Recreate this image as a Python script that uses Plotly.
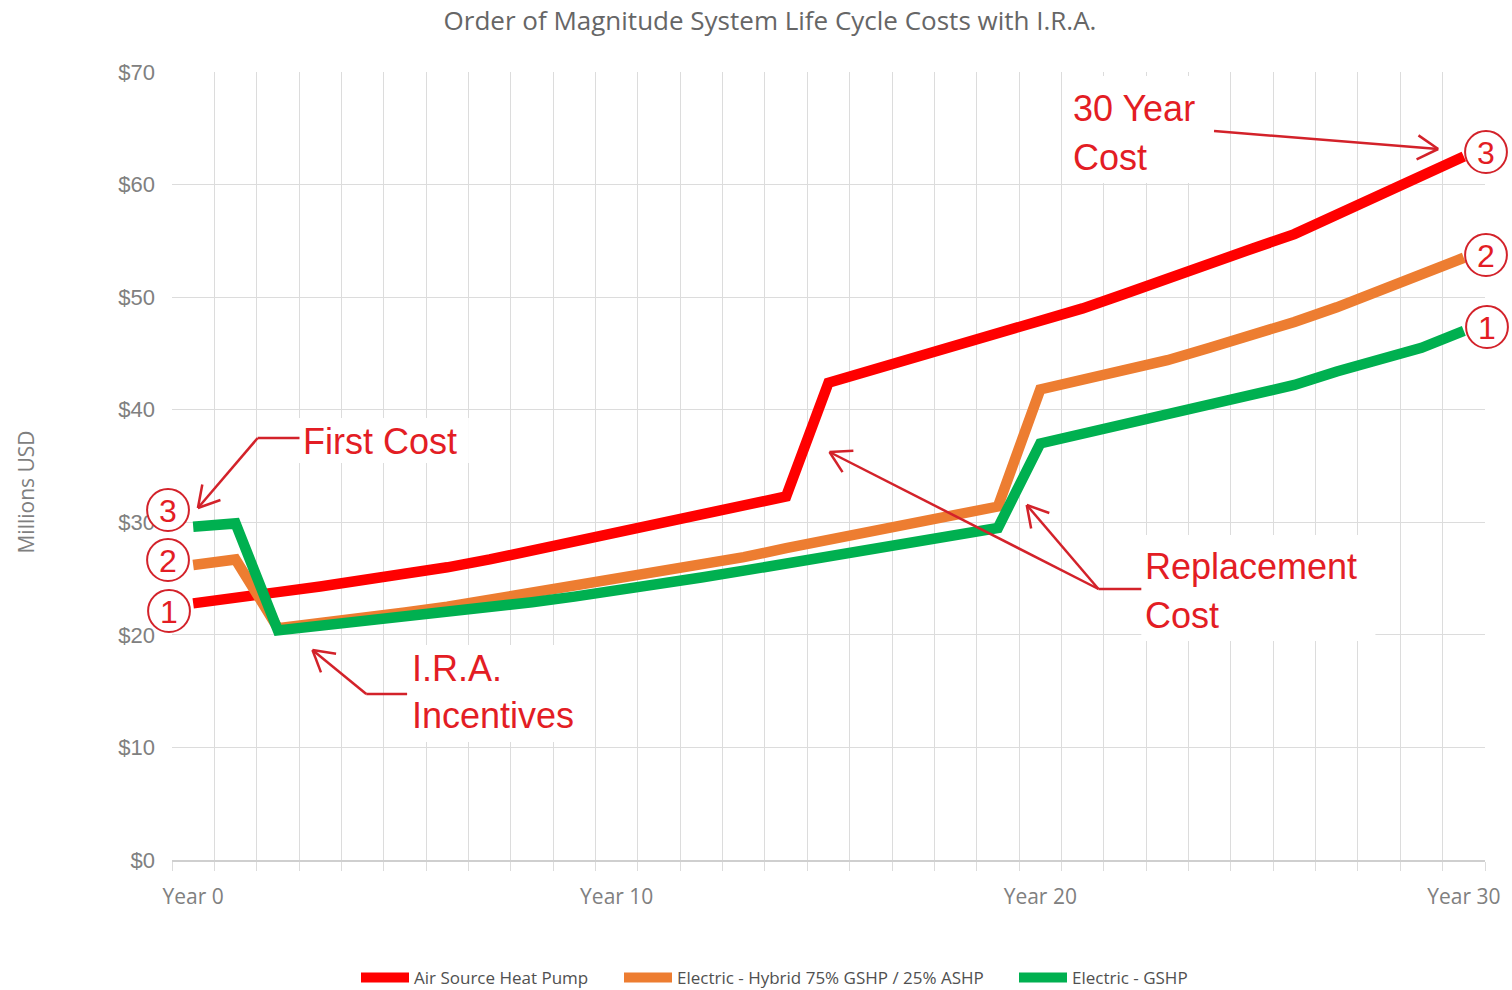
import math
import plotly.graph_objects as go

# ---- data (millions USD, cumulative life-cycle cost by year) ----
years = list(range(31))
year_labels = ["Year 0", "Year 10", "Year 20", "Year 30"]
year_label_pos = [0, 10, 20, 30]

air_source_hp = [22.8, 23.2, 23.8, 24.3, 24.8, 25.4, 26.0, 26.7, 27.5, 28.3,
                 29.1, 29.9, 30.7, 31.5, 32.3, 42.4, 43.5, 44.6, 45.7, 46.7,
                 47.7, 49.0, 50.3, 51.7, 53.0, 54.3, 55.6, 57.3, 59.0, 60.8, 62.5]
hybrid_gshp_ashp = [26.2, 26.7, 20.6, 21.0, 21.5, 22.0, 22.5, 23.1, 23.7, 24.3,
                    24.9, 25.5, 26.1, 26.9, 27.7, 28.4, 29.2, 29.9, 30.6, 31.4,
                    41.8, 42.6, 43.5, 44.4, 45.5, 46.6, 47.8, 49.1, 50.5, 52.0, 53.5]
electric_gshp = [29.6, 29.9, 20.4, 20.8, 21.1, 21.5, 21.9, 22.4, 22.9, 23.4,
                 23.9, 24.5, 25.1, 25.7, 26.3, 26.9, 27.5, 28.2, 28.8, 29.5,
                 37.0, 37.9, 38.8, 39.7, 40.6, 41.3, 42.2, 43.4, 44.4, 45.5, 47.0]

series_names = ["Air Source Heat Pump",
                "Electric - Hybrid 75% GSHP / 25% ASHP",
                "Electric - GSHP"]
series_values = [air_source_hp, hybrid_gshp_ashp, electric_gshp]
series_colors = ["#FF0000", "#ED7D31", "#00B050"]

y_ticks = list(range(0, 71, 10))
y_tick_text = ["$" + str(v) for v in y_ticks]

# ---- page geometry ----
FIG_W, FIG_H = 1512, 990
M_L, M_R, M_T, M_B = 172, 22, 72, 130
PW = FIG_W - M_L - M_R
PH = FIG_H - M_T - M_B

RED_TEXT = "#E31D24"
RED_LINE = "#D3222A"
GRID = "#DCDCDC"

# left edge (px) of each legend entry along the bottom row
legend_left_px = [356, 619, 1014]
legend_ids = ["legend", "legend2", "legend3"]


def paper(x, y):
    """Pixel position on the page -> paper coordinates."""
    return (x - M_L) / PW, (M_T + PH - y) / PH


fig = go.Figure()
for name, vals, color, lg in zip(series_names, series_values, series_colors, legend_ids):
    fig.add_trace(go.Scatter(
        x=years, y=vals, mode="lines", name=name, legend=lg, showlegend=True,
        line=dict(color=color, width=10.5),
    ))

shapes = []
annotations = []


def seg(x0, y0, x1, y1, width=2.5):
    a, b = paper(x0, y0)
    c, d = paper(x1, y1)
    shapes.append(dict(type="line", xref="paper", yref="paper",
                       x0=a, y0=b, x1=c, y1=d, layer="above",
                       line=dict(color=RED_LINE, width=width)))


def arrow(fx, fy, tx, ty, head=24, ang=30):
    seg(fx, fy, tx, ty)
    dx, dy = fx - tx, fy - ty
    n = math.hypot(dx, dy)
    ux, uy = dx / n, dy / n
    for s in (-1, 1):
        a = math.radians(ang * s)
        rx = ux * math.cos(a) - uy * math.sin(a)
        ry = ux * math.sin(a) + uy * math.cos(a)
        seg(tx, ty, tx + head * rx, ty + head * ry)


def white_box(x0, y0, x1, y1):
    a, b = paper(x0, y1)
    c, d = paper(x1, y0)
    shapes.append(dict(type="rect", xref="paper", yref="paper",
                       x0=a, y0=b, x1=c, y1=d, layer="above",
                       fillcolor="white", line=dict(width=0)))


def callout_text(text, x, y, size=36):
    a, b = paper(x, y)
    annotations.append(dict(text=text, xref="paper", yref="paper", x=a, y=b,
                            xanchor="left", yanchor="middle", showarrow=False,
                            font=dict(family="Liberation Sans, Arial", size=size,
                                      color=RED_TEXT)))


def numbered_circle(label, cx, cy, r=21):
    a, b = paper(cx - r, cy + r)
    c, d = paper(cx + r, cy - r)
    shapes.append(dict(type="circle", xref="paper", yref="paper",
                       x0=a, y0=b, x1=c, y1=d, layer="above",
                       fillcolor="white", line=dict(color=RED_LINE, width=2)))
    px_, py_ = paper(cx, cy + 1)
    annotations.append(dict(text=label, xref="paper", yref="paper", x=px_, y=py_,
                            xanchor="center", yanchor="middle", showarrow=False,
                            font=dict(family="Liberation Sans, Arial", size=32,
                                      color=RED_TEXT)))


# text backdrops
white_box(293, 418, 470, 463)
white_box(1066, 76, 1214, 183)
white_box(1145, 535, 1380, 641)
white_box(405, 645, 588, 742)

# callout arrows
seg(300, 438, 258, 438)
arrow(258, 438, 198, 508)
arrow(1218, 131, 1443, 149)
seg(1145, 589, 1102, 589)
arrow(1102, 589, 832, 452)
arrow(1102, 589, 1030, 505)
seg(408, 694, 367, 694)
arrow(367, 694, 313, 650)

# callout texts
callout_text("First Cost", 301, 441)
callout_text("30 Year", 1074, 109)
callout_text("Cost", 1074, 157)
callout_text("Replacement", 1147, 566)
callout_text("Cost", 1147, 615)
callout_text("I.R.A.", 411, 668)
callout_text("Incentives", 411, 715)

# ranking circles
numbered_circle("3", 168, 510)
numbered_circle("2", 168, 560)
numbered_circle("1", 169, 611)
numbered_circle("3", 1491, 152)
numbered_circle("2", 1491, 255)
numbered_circle("1", 1492, 327)

# y-axis title
ax_, ay_ = paper(25, 492)
annotations.append(dict(text="Millions USD", xref="paper", yref="paper",
                        x=ax_, y=ay_, textangle=-90, showarrow=False,
                        xanchor="center", yanchor="middle",
                        font=dict(family="Open Sans", size=21, color="#7F7F7F")))

legend_font = dict(family="Open Sans", size=17, color="#505050")
legend_cfg = {}
for lg, left in zip(legend_ids, legend_left_px):
    legend_cfg[lg] = dict(orientation="h", xref="container", yref="container",
                          x=left / FIG_W, xanchor="left", y=1 - 978 / FIG_H,
                          yanchor="middle", font=legend_font, itemwidth=48,
                          bgcolor="rgba(0,0,0,0)", visible=True)

fig.update_layout(
    width=FIG_W, height=FIG_H,
    showlegend=True,
    margin=dict(l=M_L, r=M_R, t=M_T, b=M_B),
    paper_bgcolor="white", plot_bgcolor="white",
    title=dict(text="Order of Magnitude System Life Cycle Costs with I.R.A.",
               x=770 / FIG_W, xref="container", xanchor="center",
               y=1 - 21 / FIG_H, yref="container", yanchor="middle",
               font=dict(family="Open Sans", size=26, color="#666666")),
    xaxis=dict(
        range=[-0.5, 30.5], tickmode="array",
        tickvals=year_label_pos, ticktext=year_labels,
        showgrid=False, zeroline=False, ticks="",
        ticklabelstandoff=17,
        tickfont=dict(family="Open Sans", size=21, color="#808080"),
        showline=True, linecolor="#CFCFCF", linewidth=1.5,
        minor=dict(tickvals=[i - 0.5 for i in range(32)], showgrid=True,
                   gridcolor=GRID, gridwidth=1, ticks="outside", ticklen=9,
                   tickcolor=GRID),
    ),
    yaxis=dict(
        range=[0, 70], tickmode="array", tickvals=y_ticks, ticktext=y_tick_text,
        showgrid=True, gridcolor=GRID, gridwidth=1, zeroline=False, ticks="",
        ticklabelstandoff=16,
        tickfont=dict(family="Liberation Sans, Arial", size=22, color="#808080"),
    ),
    shapes=shapes,
    annotations=annotations,
    **legend_cfg,
)

fig.write_html("out.html")
